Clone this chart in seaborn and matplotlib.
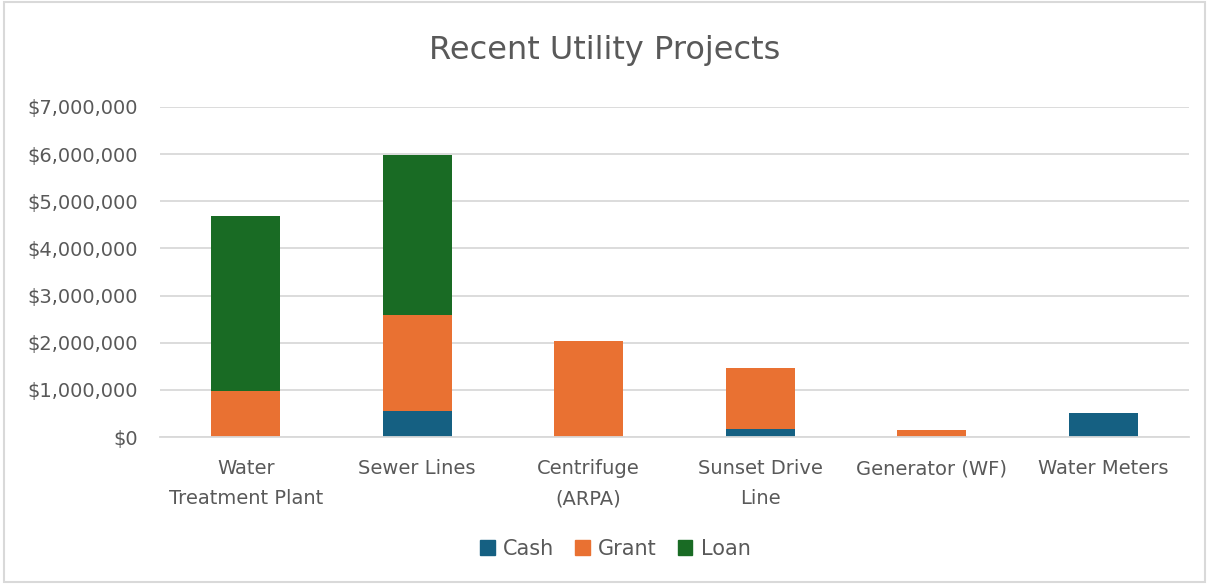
import matplotlib
matplotlib.use("Agg")
import matplotlib.pyplot as plt
import seaborn as sns
import pandas as pd
import numpy as np
from matplotlib.ticker import FuncFormatter
from matplotlib.patches import Rectangle

projects = ["Water\nTreatment Plant", "Sewer Lines", "Centrifuge\n(ARPA)",
            "Sunset Drive\nLine", "Generator (WF)", "Water Meters"]
cash = [0, 550000, 0, 165000, 0, 500000]
grant = [975000, 2030000, 2035000, 1300000, 155000, 0]
loan = [3715000, 3410000, 0, 0, 0, 0]

series_names = ["Cash", "Grant", "Loan"]
colors = {"Cash": "#156082", "Grant": "#E97132", "Loan": "#196B24"}

sns.set_theme(style="white")
plt.rcParams['font.family'] = ['DejaVu Sans']
text_color = "#595959"

df = pd.DataFrame({"Project": projects, "Cash": cash, "Grant": grant, "Loan": loan})
df["c1"] = df["Cash"]
df["c2"] = df["Cash"] + df["Grant"]
df["c3"] = df["c2"] + df["Loan"]

fig = plt.figure(figsize=(12.09, 5.84), dpi=100)
ax = fig.add_axes([0.1323, 0.2517, 0.8512, 0.5651])

for col, name in [("c3", "Loan"), ("c2", "Grant"), ("c1", "Cash")]:
    sns.barplot(data=df, x="Project", y=col, color=colors[name], width=0.4,
                saturation=1, ax=ax, errorbar=None, linewidth=0)

ax.set_ylim(0, 7000000)
ax.set_yticks(np.arange(0, 7000001, 1000000))
ax.yaxis.set_major_formatter(FuncFormatter(lambda v, p: f"${v:,.0f}"))
ax.grid(axis="y", color="#D9D9D9", linewidth=1.3)
ax.set_axisbelow(True)
for s in ["top", "right", "left"]:
    ax.spines[s].set_visible(False)
ax.spines["bottom"].set_color("#D9D9D9")
ax.spines["bottom"].set_linewidth(1.3)
ax.set_xlabel("")
ax.set_ylabel("")
ax.tick_params(axis="both", colors=text_color, labelsize=14, length=0)
ax.tick_params(axis="x", pad=16)
ax.tick_params(axis="y", pad=16)
for lab in ax.get_xticklabels():
    lab.set_linespacing(1.75)
ax.set_xlim(-0.5, len(projects) - 0.5)

fig.text(0.5, 0.913, "Recent Utility Projects", ha="center", va="center",
         fontsize=23, color=text_color)

handles = [Rectangle((0, 0), 1, 1, color=colors[n]) for n in series_names]
fig.legend(handles, series_names, loc="center", bbox_to_anchor=(0.509, 0.06), ncol=3,
           frameon=False, fontsize=15, labelcolor=text_color, handlelength=0.7,
           handleheight=0.7, handletextpad=0.4, columnspacing=1.0)

fig.patches.append(Rectangle((0.003, 0.003), 0.994, 0.994, transform=fig.transFigure,
                             fill=False, edgecolor="#D9D9D9", linewidth=1.5))

fig.savefig("out.png", dpi=100)
